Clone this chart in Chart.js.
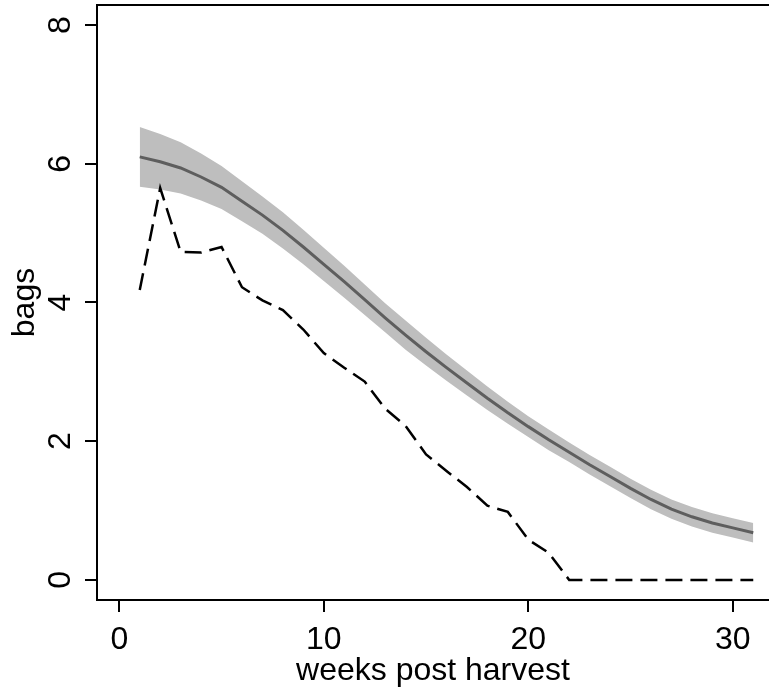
<!DOCTYPE html>
<html>
<head>
<meta charset="utf-8">
<script src="https://cdn.jsdelivr.net/npm/chart.js@4.4.0/dist/chart.umd.min.js"></script>
<style>
  html, body { margin: 0; padding: 0; background: #fff; }
  #wrap { width: 769px; height: 687px; position: relative; }
</style>
</head>
<body>
<div id="wrap"><canvas id="chart"></canvas></div>
<script>
const weeks = [1, 2, 3, 4, 5, 6, 7, 8, 9, 10, 11, 12, 13, 14, 15, 16,
  17, 18, 19, 20, 21, 22, 23, 24, 25, 26, 27, 28, 29, 30, 31];

// observed bags (dashed)
const observed = [4.18, 5.65, 4.73, 4.72, 4.80, 4.22, 4.03, 3.89, 3.61, 3.27,
  3.06, 2.86, 2.47, 2.22, 1.81, 1.57, 1.34, 1.07, 0.98, 0.58, 0.39,
  0, 0, 0, 0, 0, 0, 0, 0, 0, 0];

// fitted mean (solid) and its band
const fitted = [6.10, 6.03, 5.94, 5.81, 5.66, 5.46, 5.26, 5.04, 4.80, 4.55,
  4.30, 4.04, 3.78, 3.53, 3.29, 3.06, 2.84, 2.62, 2.41, 2.21, 2.02, 1.84,
  1.66, 1.49, 1.32, 1.16, 1.02, 0.91, 0.82, 0.75, 0.68];
const upper = [6.53, 6.43, 6.31, 6.15, 5.97, 5.75, 5.53, 5.30, 5.05, 4.79,
  4.53, 4.26, 3.99, 3.74, 3.49, 3.25, 3.02, 2.79, 2.57, 2.36, 2.17, 1.98,
  1.80, 1.63, 1.46, 1.30, 1.16, 1.05, 0.96, 0.89, 0.82];
const lower = [5.67, 5.63, 5.57, 5.47, 5.35, 5.17, 4.99, 4.78, 4.55, 4.31,
  4.07, 3.82, 3.57, 3.32, 3.09, 2.87, 2.66, 2.45, 2.25, 2.06, 1.87, 1.70,
  1.52, 1.35, 1.18, 1.02, 0.88, 0.77, 0.68, 0.61, 0.54];

const xTicks = [0, 10, 20, 30];
const yTicks = [0, 2, 4, 6, 8];

const pts = (arr) => arr.map((v, i) => ({ x: weeks[i], y: v }));
const font = { family: "'Liberation Sans', Arial, Helvetica, sans-serif", size: 32 };

// top edge of the plot box
const topLine = {
  id: "topLine",
  afterDraw(chart) {
    const { ctx, chartArea } = chart;
    ctx.save();
    ctx.strokeStyle = "#000";
    ctx.lineWidth = 2;
    ctx.beginPath();
    ctx.moveTo(chartArea.left - 1, chartArea.top);
    ctx.lineTo(chartArea.right, chartArea.top);
    ctx.stroke();
    ctx.restore();
  },
};

new Chart(document.getElementById("chart"), {
  type: "line",
  data: {
    datasets: [
      {
        data: pts(observed),
        borderColor: "#000",
        borderWidth: 2.5,
        borderDash: [17, 8],
        pointRadius: 0,
        fill: false,
        tension: 0,
      },
      {
        data: pts(fitted),
        borderColor: "#5e5e5e",
        borderWidth: 3,
        pointRadius: 0,
        fill: false,
        tension: 0,
      },
      {
        data: pts(upper),
        borderWidth: 0,
        borderColor: "rgba(0,0,0,0)",
        backgroundColor: "#bebebe",
        pointRadius: 0,
        fill: "+1",
        tension: 0,
      },
      {
        data: pts(lower),
        borderWidth: 0,
        borderColor: "rgba(0,0,0,0)",
        pointRadius: 0,
        fill: false,
        tension: 0,
      },
    ],
  },
  options: {
    responsive: true,
    maintainAspectRatio: false,
    animation: false,
    layout: { padding: { top: 5, left: 0, right: 0, bottom: 0 } },
    plugins: { legend: { display: false }, tooltip: { enabled: false } },
    scales: {
      x: {
        type: "linear",
        min: -1.09,
        max: 31.77,
        afterBuildTicks: (s) => { s.ticks = xTicks.map((v) => ({ value: v })); },
        afterFit: (s) => { s.height = 87; s.paddingLeft = 0; s.paddingRight = 0; },
        ticks: { color: "#000", font: font, padding: 9, maxRotation: 0 },
        grid: { drawOnChartArea: false, color: "#000", lineWidth: 2, tickLength: 12 },
        border: { display: true, color: "#000", width: 2 },
        title: {
          display: true,
          text: "weeks post harvest",
          color: "#000",
          font: { ...font, lineHeight: 1 },
          padding: { top: 0, bottom: 0 },
        },
      },
      y: {
        min: -0.29,
        max: 8.29,
        afterBuildTicks: (s) => { s.ticks = yTicks.map((v) => ({ value: v })); },
        afterFit: (s) => { s.width = 97; s.paddingTop = 0; s.paddingBottom = 0; },
        ticks: { color: "#000", font: font, padding: 15, minRotation: 90, maxRotation: 90, crossAlign: "center" },
        grid: { drawOnChartArea: false, color: "#000", lineWidth: 2, tickLength: 12 },
        border: { display: true, color: "#000", width: 2 },
        title: {
          display: true,
          text: "bags",
          color: "#000",
          font: font,
          padding: { top: 6, bottom: 0 },
        },
      },
    },
  },
  plugins: [topLine],
});
</script>
</body>
</html>
